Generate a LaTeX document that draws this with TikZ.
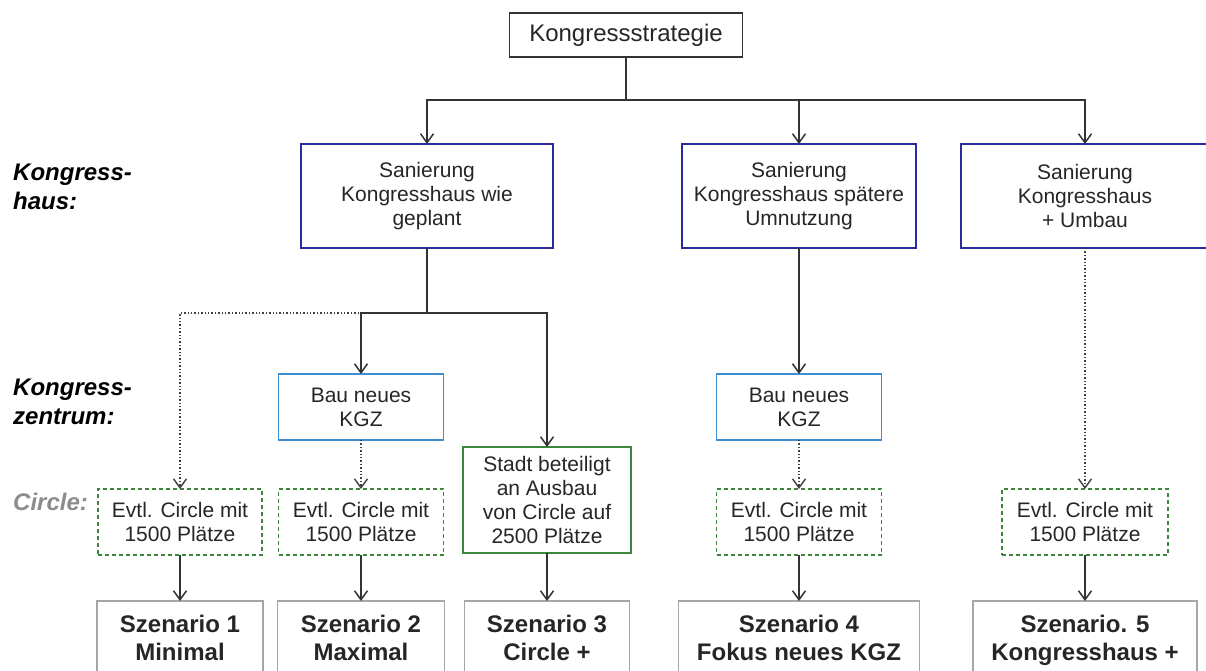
\documentclass[tikz,border=0pt]{standalone}
\usepackage{fontspec}
\setmainfont{Liberation Sans}
\usetikzlibrary{arrows.meta}
\definecolor{colorhaus}{HTML}{2B2B9E}
\definecolor{colorkgz}{HTML}{3F8ED2}
\definecolor{colorcircle}{HTML}{3C873C}
\definecolor{colorline}{HTML}{333333}

\begin{document}
\begin{tikzpicture}[x=1pt, y=-1pt,
    >={Straight Barb[length=9pt,width=13pt]},
    box/.style={draw, line width=1.5pt, align=center, inner sep=0pt, outer sep=0pt,
        text=black!85, font=\fontsize{21}{24}\selectfont},
    haus/.style={box, draw=colorhaus, minimum height=104pt},
    kgz/.style={box, draw=colorkgz, minimum width=165pt, minimum height=66pt},
    evtl/.style={box, draw=colorcircle, dash pattern=on 4pt off 3pt, minimum width=165pt, minimum height=66pt},
    szen/.style={box, draw=black!35, minimum height=80pt, font=\fontsize{24}{28}\selectfont\bfseries},
    ebene/.style={anchor=west, align=left, inner sep=0pt, font=\fontsize{24}{29}\selectfont\bfseries\itshape},
    pfeil/.style={->, colorline, line width=1.5pt},
    option/.style={->, black!75, line width=1.4pt, dotted}]
    \useasboundingbox (0,0) rectangle (1206,671);
    \clip (0,0) rectangle (1206,671);

    \node[box, draw=colorline, minimum width=233pt, minimum height=44pt,
        font=\fontsize{24}{28}\selectfont] (strategie) at (626,35) {Kongressstrategie};

    \node[ebene] (lhaus) at (13,187) {Kongress-\\haus:};
    \node[ebene] (lkgz) at (13,402) {Kongress-\\zentrum:};
    \node[ebene, text=black!45] (lcircle) at (13,502) {Circle:};

    \node[haus, minimum width=252pt] (san1) at (427,196) {Sanierung\\Kongresshaus wie\\geplant};
    \node[haus, minimum width=234pt] (san2) at (799,196) {Sanierung\\Kongresshaus spätere\\Umnutzung};
    \node[haus, minimum width=248pt] (san3) at (1085,196) {Sanierung\\Kongresshaus\\+ Umbau};

    \node[kgz] (bau1) at (361,407) {Bau neues\\KGZ};
    \node[kgz] (bau2) at (799,407) {Bau neues\\KGZ};

    \node[evtl, minimum width=164pt] (evtl1) at (180,522) {Evtl. Circle mit\\1500 Plätze};
    \node[evtl] (evtl2) at (361,522) {Evtl. Circle mit\\1500 Plätze};
    \node[box, draw=colorcircle, minimum width=168pt, minimum height=106pt] (stadt) at (547,500)
        {Stadt beteiligt\\an Ausbau\\von Circle auf\\2500 Plätze};
    \node[evtl] (evtl3) at (799,522) {Evtl. Circle mit\\1500 Plätze};
    \node[evtl, minimum width=166pt] (evtl4) at (1085,522) {Evtl. Circle mit\\1500 Plätze};

    \node[szen, minimum width=166pt] (sz1) at (180,641) {Szenario 1\strut\\Minimal\strut};
    \node[szen, minimum width=167pt] (sz2) at (361,641) {Szenario 2\strut\\Maximal\strut};
    \node[szen, minimum width=165pt] (sz3) at (547,641) {Szenario 3\strut\\Circle +\strut};
    \node[szen, minimum width=241pt] (sz4) at (799,641) {Szenario 4\strut\\Fokus neues KGZ\strut};
    \node[szen, minimum width=224pt] (sz5) at (1085,641) {Szenario. 5\strut\\Kongresshaus +\strut};

    \coordinate (verteiler) at (626,100);
    \coordinate (gabel) at (427,313);

    \draw[colorline, line width=1.5pt] (strategie) -- (verteiler);
    \draw[pfeil] (verteiler) -| (san1);
    \draw[pfeil] (verteiler) -| (san2);
    \draw[pfeil] (verteiler) -| (san3);

    \draw[option] (gabel) -| (evtl1);
    \draw[colorline, line width=1.5pt] (san1) -- (gabel);
    \draw[pfeil] (gabel) -| (bau1);
    \draw[pfeil] (gabel) -| (stadt);
    \draw[pfeil] (san2) -- (bau2);
    \draw[option] (san3) -- (evtl4);
    \draw[option] (bau1) -- (evtl2);
    \draw[option] (bau2) -- (evtl3);

    \draw[pfeil] (evtl1) -- (sz1);
    \draw[pfeil] (evtl2) -- (sz2);
    \draw[pfeil] (stadt) -- (sz3);
    \draw[pfeil] (evtl3) -- (sz4);
    \draw[pfeil] (evtl4) -- (sz5);
\end{tikzpicture}
\end{document}
